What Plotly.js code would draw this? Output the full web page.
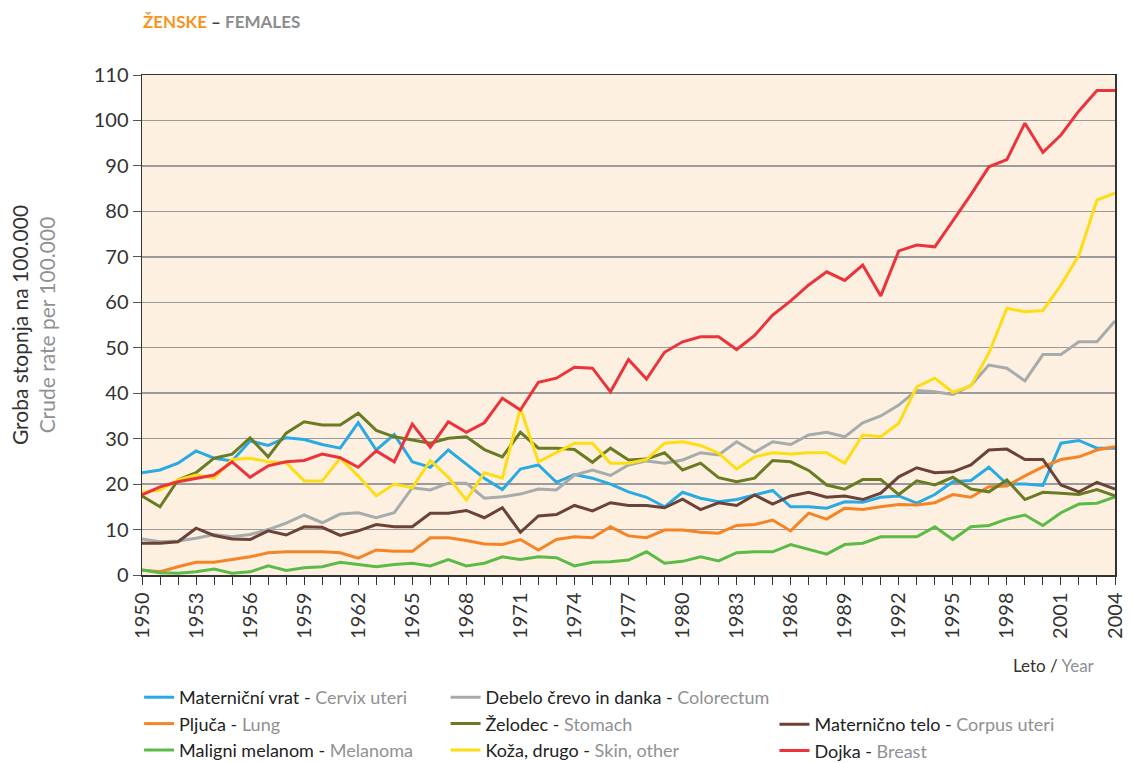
<!DOCTYPE html>
<html>
<head>
<meta charset="utf-8">
<script src="https://cdn.plot.ly/plotly-3.0.1.min.js"></script>
<style>html,body{margin:0;padding:0;background:#fff;}#chart{width:1134px;height:763px;}</style>
</head>
<body>
<div id="chart"></div>
<script>
const years = [];
for (let y = 1950; y <= 2004; y++) years.push(y);

const cervix = [22.5,23.1,24.6,27.3,25.7,25.1,29.5,28.5,30.2,29.8,28.7,27.9,33.5,27.5,30.9,24.9,23.7,27.5,24.4,21.3,
  18.8,23.3,24.2,20.4,22.1,21.3,20.0,18.3,17.1,15.0,18.2,16.9,16.1,16.6,17.6,18.6,15.0,15.0,14.7,16.1,
  16.0,17.1,17.4,15.8,17.7,20.5,20.8,23.7,20.0,20.0,19.7,29.0,29.6,27.9,27.9];
const lung = [1.1,0.7,1.8,2.8,2.8,3.4,4.0,4.9,5.1,5.1,5.1,4.9,3.7,5.5,5.2,5.2,8.2,8.2,7.6,6.8,
  6.7,7.8,5.5,7.8,8.4,8.2,10.6,8.6,8.2,9.9,9.9,9.4,9.2,10.9,11.1,12.1,9.7,13.6,12.3,14.7,
  14.4,15.0,15.5,15.4,15.9,17.7,17.1,19.4,19.6,21.8,23.8,25.4,26.0,27.5,28.2];
const melanoma = [1.1,0.5,0.4,0.7,1.3,0.4,0.7,2.0,1.0,1.6,1.8,2.8,2.3,1.8,2.3,2.6,2.0,3.4,2.0,2.6,
  4.0,3.4,4.0,3.8,2.0,2.8,2.9,3.3,5.1,2.6,3.0,4.0,3.1,4.9,5.1,5.1,6.7,5.6,4.6,6.7,
  7.0,8.4,8.4,8.4,10.6,7.8,10.6,10.9,12.3,13.2,10.9,13.7,15.6,15.8,17.2];
const colorectum = [7.9,7.3,7.5,8.1,8.9,8.4,8.9,10.0,11.4,13.2,11.5,13.4,13.7,12.6,13.7,19.2,18.7,20.2,20.2,16.9,
  17.2,17.8,18.9,18.7,22.0,23.1,21.9,24.2,25.1,24.6,25.3,26.9,26.4,29.3,27.0,29.3,28.7,30.8,31.4,30.4,
  33.5,35.0,37.4,40.6,40.3,39.7,41.7,46.2,45.5,42.7,48.5,48.5,51.3,51.3,55.9];
const stomach = [17.4,15.0,20.9,22.5,25.7,26.6,30.2,26.0,31.2,33.7,33.0,33.0,35.6,31.8,30.4,29.7,29.0,30.1,30.4,27.6,
  26.0,31.4,27.9,27.9,27.6,24.8,27.9,25.3,25.5,26.9,23.1,24.6,21.4,20.5,21.3,25.2,24.9,23.0,19.8,18.9,
  21.0,21.0,17.7,20.7,19.8,21.5,18.9,18.3,20.9,16.6,18.2,18.0,17.7,18.8,17.4];
const skin = [18.2,18.7,20.9,22.0,21.3,25.4,25.7,24.9,24.7,20.7,20.7,25.7,21.8,17.4,20.0,19.2,25.2,21.5,16.5,22.5,
  21.3,36.7,24.9,26.9,29.0,29.0,24.6,24.6,25.4,29.0,29.3,28.5,26.8,23.3,26.0,26.9,26.6,26.9,26.9,24.6,
  30.8,30.4,33.4,41.4,43.3,40.2,41.6,48.8,58.7,57.9,58.2,63.8,70.4,82.5,84.0];
const corpus = [7.0,7.0,7.3,10.3,8.7,7.9,7.8,9.7,8.8,10.6,10.5,8.7,9.7,11.1,10.6,10.6,13.6,13.6,14.2,12.6,
  14.8,9.4,13.0,13.3,15.3,14.1,15.9,15.3,15.3,14.8,16.7,14.4,15.9,15.3,17.6,15.6,17.4,18.2,17.1,17.4,
  16.6,18.0,21.6,23.6,22.5,22.7,24.2,27.5,27.7,25.4,25.4,19.8,18.3,20.4,18.9];
const breast = [17.6,19.4,20.5,21.3,22.0,24.9,21.5,24.0,24.9,25.2,26.6,25.8,23.7,27.3,24.9,33.2,28.1,33.7,31.4,33.5,
  38.9,36.3,42.4,43.3,45.7,45.5,40.3,47.4,43.1,49.0,51.3,52.4,52.4,49.6,52.7,57.2,60.3,63.8,66.7,64.8,
  68.2,61.4,71.3,72.6,72.2,77.9,83.7,89.8,91.4,99.4,93.0,96.8,102.1,106.6,106.6];

const G = "#8f9193";
const series = [
  {name: "Materniční vrat - ", en: "Cervix uteri", y: cervix, color: "#2aaae2", legend: "legend"},
  {name: "Pljuča - ", en: "Lung", y: lung, color: "#f58426", legend: "legend"},
  {name: "Maligni melanom - ", en: "Melanoma", y: melanoma, color: "#5bbb46", legend: "legend"},
  {name: "Debelo črevo in danka - ", en: "Colorectum", y: colorectum, color: "#a6abab", legend: "legend2"},
  {name: "Želodec - ", en: "Stomach", y: stomach, color: "#6b7b24", legend: "legend2"},
  {name: "Koža, drugo - ", en: "Skin, other", y: skin, color: "#fddd14", legend: "legend2"},
  {name: "Maternično telo - ", en: "Corpus uteri", y: corpus, color: "#6a4237", legend: "legend3"},
  {name: "Dojka - ", en: "Breast", y: breast, color: "#ec333b", legend: "legend3"}
];

const traces = series.map(s => ({
  x: years, y: s.y, type: "scatter", mode: "lines",
  name: s.name + "<span style='color:" + G + "'>" + s.en + "</span>",
  line: {color: s.color, width: 3},
  legend: s.legend, hoverinfo: "x+y"
}));

const FONT = "Lato, 'DejaVu Sans', sans-serif";
const legendBase = {
  orientation: "v", bgcolor: "rgba(0,0,0,0)", borderwidth: 0,
  font: {family: FONT, size: 18, color: "#222"},
  yanchor: "bottom", xanchor: "left", tracegroupgap: 0, itemwidth: 30,
  y: -0.388
};

const layout = {
  width: 1134, height: 763,
  margin: {l: 142, r: 19, t: 75, b: 188, autoexpand: false},
  paper_bgcolor: "#ffffff",
  plot_bgcolor: "#fdf0e1",
  font: {family: FONT, color: "#333"},
  title: {
    text: "<b><span style='color:#f7941d'>ŽENSKE</span> <span style='color:#444'>–</span> <span style='color:#8a8c8e'>FEMALES</span></b>",
    x: 143/1134, xanchor: "left", xref: "container",
    y: 1 - 22/763, yanchor: "middle", yref: "container",
    font: {family: FONT, size: 17}
  },
  xaxis: {
    range: [1950, 2004], tick0: 1950, dtick: 3,
    ticks: "outside", ticklen: 8, tickwidth: 1, tickcolor: "#333",
    minor: {dtick: 1, ticks: "outside", ticklen: 8, tickwidth: 1, tickcolor: "#333"},
    tickangle: -90, tickfont: {family: FONT, size: 20, color: "#333"},
    showgrid: false, zeroline: false,
    showline: true, linecolor: "#333", linewidth: 1.5, mirror: true
  },
  yaxis: {
    range: [0, 110], dtick: 10, tick0: 0,
    ticks: "outside", ticklen: 8, tickwidth: 1, tickcolor: "#555",
    tickfont: {family: FONT, size: 20, color: "#333"},
    showgrid: true, gridcolor: "#9b9b9b", gridwidth: 1.5,
    zeroline: false,
    showline: true, linecolor: "#333", linewidth: 1.5, mirror: true,
    title: {
      text: "Groba stopnja na 100.000<br><span style='color:" + G + "'>Crude rate per 100.000</span>",
      font: {family: FONT, size: 21, color: "#333"}, standoff: 32
    }
  },
  showlegend: true,
  legend: Object.assign({}, legendBase, {x: -0.003}),
  legend2: Object.assign({}, legendBase, {x: 0.312}),
  legend3: Object.assign({}, legendBase, {x: 0.650}),
  annotations: [{
    text: "Leto / <span style='color:" + G + "'>Year</span>",
    xref: "paper", yref: "paper", x: 0.982, y: -0.18,
    xanchor: "right", yanchor: "middle", showarrow: false,
    font: {family: FONT, size: 17, color: "#333"}
  }]
};

Plotly.newPlot("chart", traces, layout, {displayModeBar: false, staticPlot: true});
</script>
</body>
</html>
